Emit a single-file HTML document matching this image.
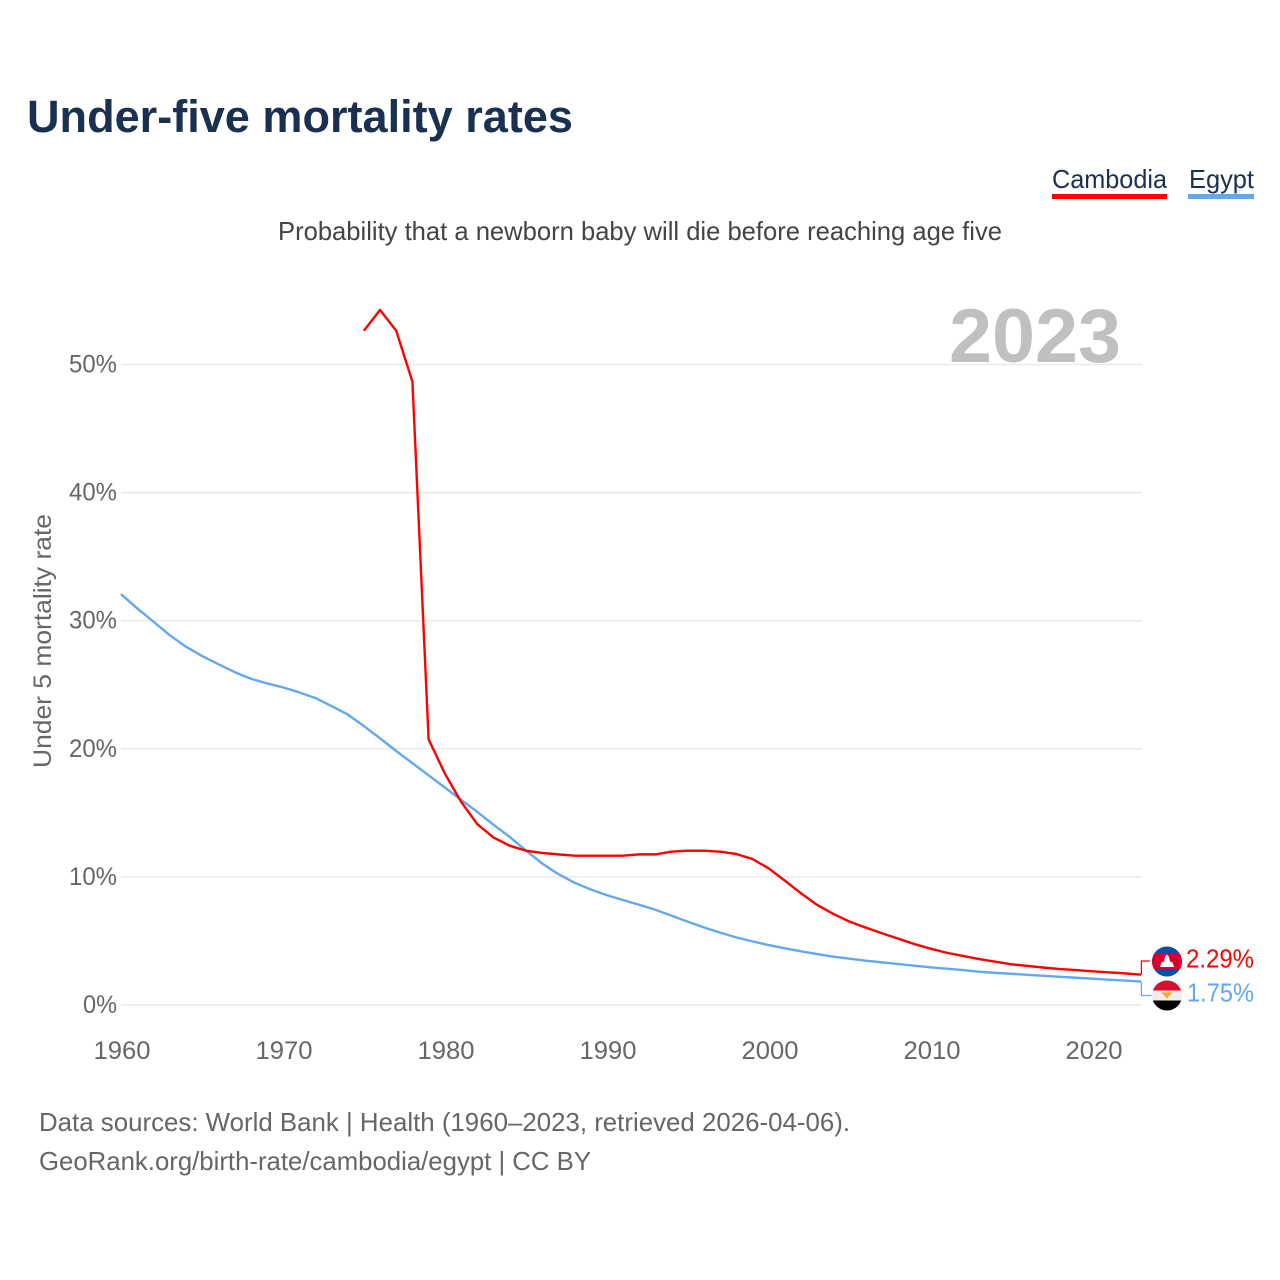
<!DOCTYPE html>
<html lang="en">
<head>
<meta charset="utf-8">
<title>Under-five mortality rates</title>
<style>
html,body{margin:0;padding:0;background:#fff;width:1280px;height:1280px;overflow:hidden}
svg{display:block}
text{font-family:"Liberation Sans",sans-serif}
</style>
</head>
<body>
<svg id="chart" width="1280" height="1280" viewBox="0 0 1280 1280" xmlns="http://www.w3.org/2000/svg">
<defs>
<clipPath id="clip-khm"><circle cx="1167" cy="961.5" r="15"/></clipPath>
<clipPath id="clip-egy"><circle cx="1167" cy="995.5" r="15"/></clipPath>
</defs>
<text x="27" y="132" font-size="45" font-weight="700" fill="#1a3050" textLength="546" lengthAdjust="spacingAndGlyphs">Under-five mortality rates</text>
<g>
<text x="1052" y="188" font-size="26" fill="#1a3050" textLength="115" lengthAdjust="spacingAndGlyphs">Cambodia</text>
<rect x="1052" y="194" width="115" height="5" fill="#ff0000"/>
</g>
<g>
<text x="1189" y="188" font-size="26" fill="#1a3050" textLength="65" lengthAdjust="spacingAndGlyphs">Egypt</text>
<rect x="1188" y="194" width="66" height="5" fill="#63a8ee"/>
</g>
<text x="278" y="240" font-size="26" fill="#444" textLength="724" lengthAdjust="spacingAndGlyphs">Probability that a newborn baby will die before reaching age five</text>
<g id="grid"></g>
<text x="949" y="362" font-size="76" font-weight="700" fill="#c0c0c0" textLength="172" lengthAdjust="spacingAndGlyphs">2023</text>
<text transform="translate(51,768) rotate(-90)" x="0" y="0" font-size="25" fill="#666" textLength="254" lengthAdjust="spacingAndGlyphs">Under 5 mortality rate</text>
<g id="y-ticks"></g>
<g id="x-ticks"></g>
<g id="series"></g>
<g clip-path="url(#clip-khm)">
<rect x="1152" y="946" width="30" height="31" fill="#0b4ea2"/>
<rect x="1152" y="954" width="30" height="15" fill="#d8002c"/>
<path d="M1160 967 L1161.5 962.5 L1164 961.5 L1165 957 L1167 954.5 L1169 957 L1170 961.5 L1172.5 962.5 L1174 967 Z" fill="#fff"/>
</g>
<g clip-path="url(#clip-egy)">
<rect x="1152" y="980" width="30" height="11" fill="#d8102c"/>
<rect x="1152" y="990.5" width="30" height="10" fill="#eeeeee"/>
<rect x="1152" y="1000.5" width="30" height="11" fill="#000"/>
<path d="M1161 992.5 L1173 992.5 L1170 995 L1167 998.5 L1164 995 Z" fill="#f5a623"/>
</g>
<text id="label-khm" x="1186" y="967.5" font-size="26" fill="#ff0000" textLength="68" lengthAdjust="spacingAndGlyphs"></text>
<text id="label-egy" x="1187" y="1001.5" font-size="26" fill="#63a8ee" textLength="67" lengthAdjust="spacingAndGlyphs"></text>
<text x="39" y="1131" font-size="26" fill="#666" textLength="811" lengthAdjust="spacingAndGlyphs">Data sources: World Bank | Health (1960–2023, retrieved 2026-04-06).</text>
<text x="39" y="1170" font-size="26" fill="#666" textLength="552" lengthAdjust="spacingAndGlyphs">GeoRank.org/birth-rate/cambodia/egypt | CC BY</text>
</svg>
<script>
var yTickValues = [0, 10, 20, 30, 40, 50];
var xTickYears = [1960, 1970, 1980, 1990, 2000, 2010, 2020];
var egyptStartYear = 1960;
var egyptValues = [32.0, 30.89, 29.85, 28.8, 27.9, 27.17, 26.54, 25.92, 25.4, 25.03, 24.72, 24.33, 23.89, 23.26, 22.6, 21.7, 20.74, 19.75, 18.8, 17.85, 16.9, 15.95, 15.0, 14.0, 13.05, 12.0, 10.98, 10.15, 9.47, 8.95, 8.5, 8.12, 7.75, 7.36, 6.9, 6.43, 5.98, 5.57, 5.2, 4.89, 4.6, 4.35, 4.11, 3.9, 3.69, 3.54, 3.38, 3.25, 3.12, 2.99, 2.86, 2.76, 2.65, 2.52, 2.43, 2.36, 2.28, 2.2, 2.12, 2.05, 1.98, 1.9, 1.83, 1.75];
var cambodiaStartYear = 1975;
var cambodiaValues = [52.56, 54.18, 52.56, 48.58, 20.66, 18.0, 15.8, 14.05, 13.0, 12.36, 11.97, 11.79, 11.68, 11.58, 11.58, 11.58, 11.58, 11.68, 11.68, 11.89, 11.97, 11.97, 11.89, 11.71, 11.32, 10.59, 9.63, 8.64, 7.73, 7.03, 6.43, 5.96, 5.52, 5.1, 4.68, 4.32, 4.0, 3.75, 3.51, 3.3, 3.1, 2.97, 2.84, 2.73, 2.65, 2.55, 2.47, 2.39, 2.29];

var NS = 'http://www.w3.org/2000/svg';
function xScale(year) { return 121 + (year - 1960) * 16.19; }
function yScale(v) { return 1004 - v * 12.81; }
function gridY(v) { return 1005 - v * 12.81; }
function tickX(year) { return 122 + (year - 1960) * 16.2; }
function make(tag, attrs, parent) {
  var el = document.createElementNS(NS, tag);
  for (var k in attrs) { el.setAttribute(k, attrs[k]); }
  parent.appendChild(el);
  return el;
}
function linePath(values, startYear) {
  return values.map(function (v, i) {
    return (i ? 'L' : 'M') + xScale(startYear + i).toFixed(2) + ' ' + yScale(v).toFixed(2);
  }).join(' ');
}

var grid = document.getElementById('grid');
var yTicks = document.getElementById('y-ticks');
yTickValues.forEach(function (v) {
  var gl = make('line', {x1: 121, x2: 1142, y1: gridY(v), y2: gridY(v), stroke: '#e9e9e9', 'stroke-width': 1.5}, grid);
  
  
  var label = v + '%';
  var t = make('text', {x: 117, y: gridY(v) + 8, 'font-size': 25, fill: '#666', 'text-anchor': 'end', textLength: label.length === 2 ? 34 : 48, lengthAdjust: 'spacingAndGlyphs'}, yTicks);
  
  
  t.textContent = label;
});

var xTicks = document.getElementById('x-ticks');
xTickYears.forEach(function (yr) {
  var t = make('text', {x: tickX(yr), y: 1059, 'font-size': 25, fill: '#666', 'text-anchor': 'middle', textLength: 57, lengthAdjust: 'spacingAndGlyphs'}, xTicks);
  
  
  t.textContent = yr;
});

var series = document.getElementById('series');
var egyLast = egyptValues[egyptValues.length - 1];
var khmLast = cambodiaValues[cambodiaValues.length - 1];

var egyPath = make('path', {d: linePath(egyptValues, egyptStartYear), fill: 'none', stroke: '#63a8ee', 'stroke-width': 2.4, 'stroke-linejoin': 'round'}, series);



var khmPath = make('path', {d: linePath(cambodiaValues, cambodiaStartYear), fill: 'none', stroke: '#ff0000', 'stroke-width': 2.4, 'stroke-linejoin': 'round'}, series);



var egyConn = make('path', {d: 'M1141.4 ' + yScale(egyLast).toFixed(2) + ' V995.5 H1151.5', fill: 'none', stroke: '#63a8ee', 'stroke-width': 1.3}, series);



var khmConn = make('path', {d: 'M1141.4 ' + yScale(khmLast).toFixed(2) + ' V961 H1150', fill: 'none', stroke: '#ff0000', 'stroke-width': 1.3}, series);



document.getElementById('label-khm').textContent = khmLast.toFixed(2) + '%';
document.getElementById('label-egy').textContent = egyLast.toFixed(2) + '%';
</script>
</body>
</html>
